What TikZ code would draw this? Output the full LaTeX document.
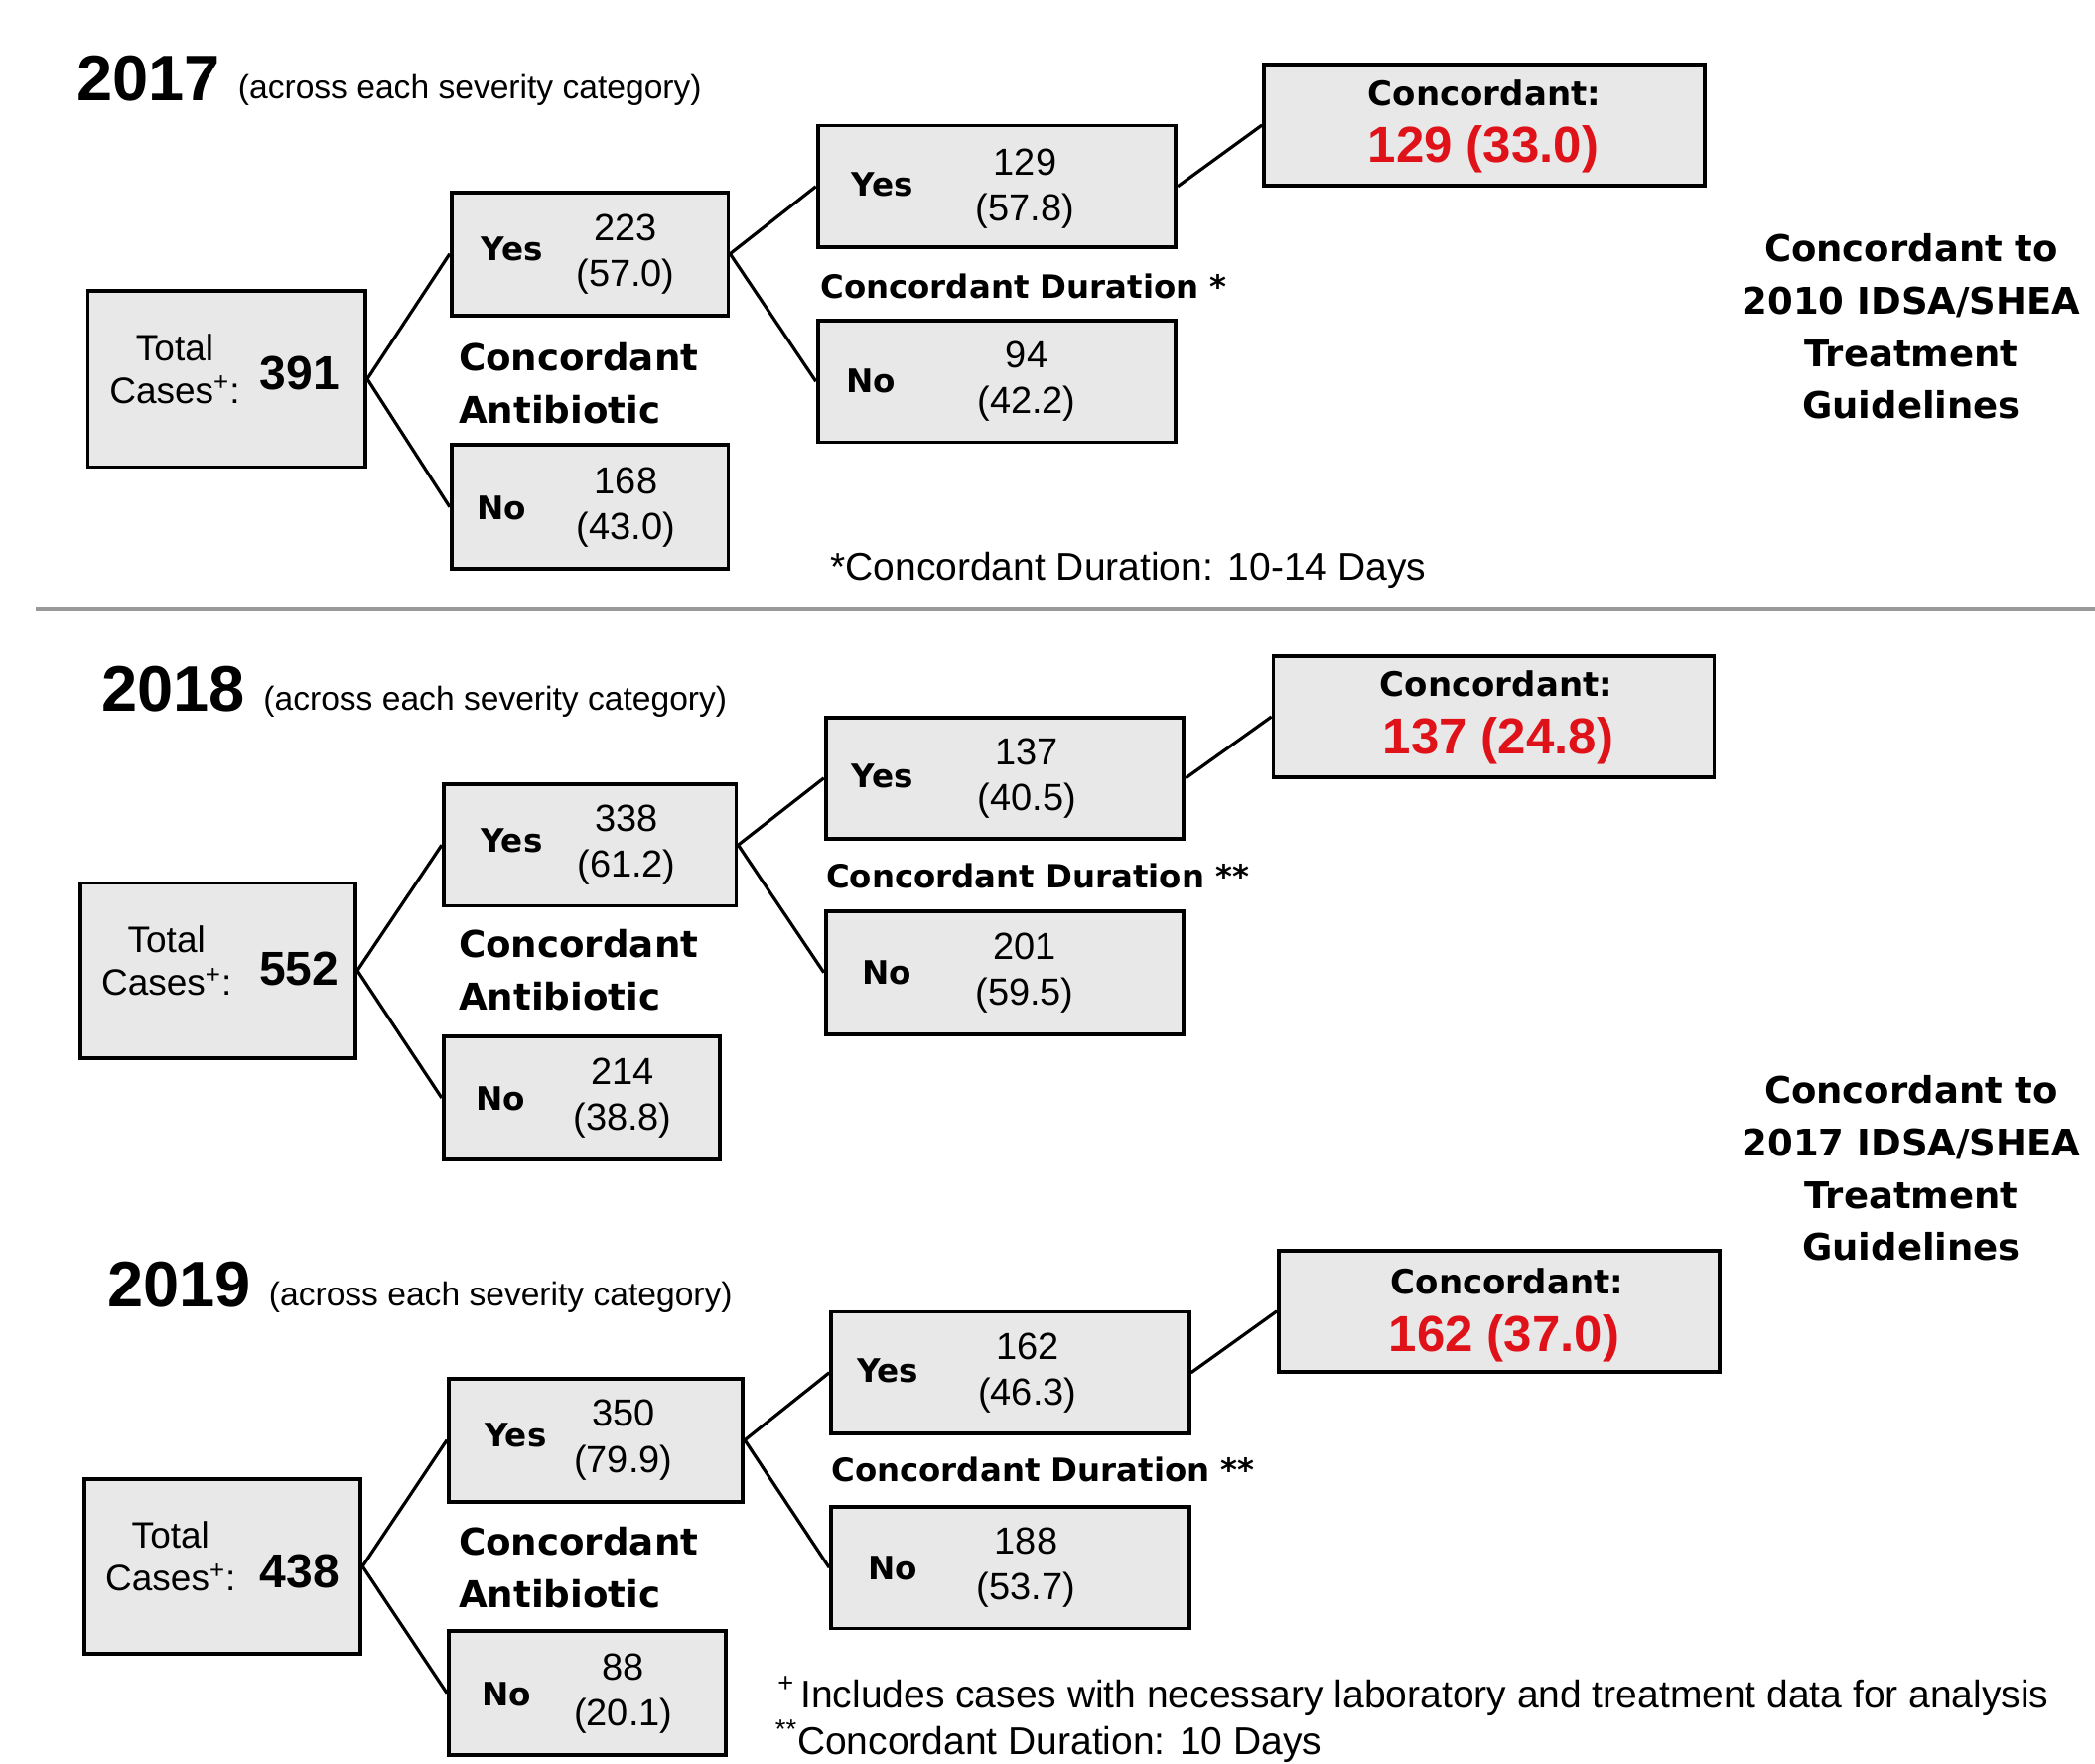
\documentclass[tikz,border=0pt]{standalone}
\usepackage{fontspec}
\setmainfont{Liberation Sans}
\newfontfamily\tahoma{DejaVu Sans}

\newlength{\du}
\setlength{\du}{0.5pt}

\definecolor{boxgray}{rgb}{0.91,0.91,0.91}
\definecolor{concred}{rgb}{0.88,0.07,0.10}
\definecolor{rulegray}{rgb}{0.60,0.60,0.60}

\tikzset{
  box/.style={draw=black, fill=boxgray, line width=1.9pt, inner sep=0pt},
  link/.style={draw=black, line width=1.6pt},
  yearlab/.style={anchor=base west, inner sep=0pt, font=\bfseries\fontsize{32.5}{36}\selectfont},
  acrosslab/.style={anchor=base west, inner sep=0pt, font=\fontsize{16.8}{20}\selectfont},
  totlab/.style={align=center, inner sep=0pt, font=\fontsize{18.5}{21.7}\selectfont},
  totnum/.style={inner sep=0pt, font=\bfseries\fontsize{24}{28}\selectfont},
  ynlab/.style={inner sep=0pt, font=\tahoma\bfseries\fontsize{16.3}{18}\selectfont},
  numlab/.style={align=center, inner sep=0pt, font=\fontsize{19}{23.3}\selectfont},
  steplab/.style={anchor=base west, inner sep=0pt, font=\tahoma\bfseries\fontsize{16.2}{20}\selectfont},
  antilab/.style={anchor=west, align=left, inner sep=0pt, font=\tahoma\bfseries\fontsize{18.6}{26.2}\selectfont},
  conclab/.style={anchor=base, inner sep=0pt, font=\tahoma\bfseries\fontsize{17}{20}\selectfont},
  concval/.style={anchor=base, inner sep=0pt, text=concred, font=\bfseries\fontsize{25.5}{30}\selectfont},
  guidelab/.style={align=center, inner sep=0pt, font=\tahoma\bfseries\fontsize{18.5}{26.3}\selectfont},
  notelab/.style={anchor=base west, inner sep=0pt, font=\fontsize{19.5}{22}\selectfont},
}

\begin{document}
\begin{tikzpicture}
\pgftransformxscale{1.000000}
\pgftransformyscale{-1.000000}
\useasboundingbox (0\du,0\du) rectangle (2110\du,1777\du);

% 2017
\node[yearlab] (yr17) at (76.7\du,101.4\du){2017};
\node[acrosslab] (ac17) at (239.5\du,100\du){(across each severity category)};
\node[box, minimum width=279.5\du, minimum height=177.5\du] (t17) at (228.3\du,381.8\du){};
\node[totlab] (t17a) at (176\du,371.5\du){Total\\Cases\textsuperscript{+}:};
\node[totnum] (t17n) at (301.7\du,376\du){391};
\node[box, minimum width=278.6\du, minimum height=124\du] (a17y) at (594.1\du,255.7\du){};
\node[ynlab] (a17yl) at (516\du,251\du){Yes};
\node[numlab] (a17yn) at (630\du,256\du){223\\(57.0)};
\node[box, minimum width=278.6\du, minimum height=125\du] (a17n) at (594.1\du,510.7\du){};
\node[ynlab] (a17nl) at (505\du,512\du){No};
\node[numlab] (a17nn) at (630.5\du,511\du){168\\(43.0)};
\node[antilab] (ab17) at (461.6\du,386\du){Concordant\\Antibiotic};
\node[box, minimum width=360.6\du, minimum height=122.5\du] (d17y) at (1003.9\du,187.8\du){};
\node[ynlab] (d17yl) at (889\du,186\du){Yes};
\node[numlab] (d17yn) at (1032.5\du,190\du){129\\(57.8)};
\node[box, minimum width=360.6\du, minimum height=122.4\du] (d17n) at (1003.9\du,384.2\du){};
\node[ynlab] (d17nl) at (877.5\du,384\du){No};
\node[numlab] (d17nn) at (1034\du,384\du){94\\(42.2)};
\node[steplab] (du17) at (826\du,300\du){Concordant Duration *};
\node[box, minimum width=444\du, minimum height=122\du] (c17) at (1495\du,126\du){};
\node[conclab] (c17a) at (1495\du,106.7\du){Concordant:};
\node[concval] (c17b) at (1494\du,163.3\du){129 (33.0)};
\node[guidelab] (g10) at (1925\du,329\du){Concordant to\\2010 IDSA/SHEA\\Treatment\\Guidelines};
\node[notelab] (f17) at (836\du,584\du){*Concordant Duration: 10-14 Days};
\draw[link] (t17.east) -- (a17y.west);
\draw[link] (t17.east) -- (a17n.west);
\draw[link] (a17y.east) -- (d17y.west);
\draw[link] (a17y.east) -- (d17n.west);
\draw[link] (d17y.east) -- (c17.west);

% separator
\coordinate (s1) at (36\du,613\du);
\coordinate (s2) at (2110\du,613\du);
\draw[draw=rulegray, line width=1.8pt] (s1) -- (s2);

% 2018
\node[yearlab] (yr18) at (102\du,716\du){2018};
\node[acrosslab] (ac18) at (265\du,715\du){(across each severity category)};
\node[box, minimum width=277.3\du, minimum height=176.3\du] (t18) at (219.4\du,977.7\du){};
\node[totlab] (t18a) at (167.7\du,968\du){Total\\Cases\textsuperscript{+}:};
\node[totnum] (t18n) at (301.3\du,975.6\du){552};
\node[box, minimum width=294.7\du, minimum height=122.4\du] (a18y) at (594.2\du,851.2\du){};
\node[ynlab] (a18yl) at (515.4\du,846.5\du){Yes};
\node[numlab] (a18yn) at (631\du,851\du){338\\(61.2)};
\node[box, minimum width=278.5\du, minimum height=123.7\du] (a18n) at (586\du,1106\du){};
\node[ynlab] (a18nl) at (504\du,1107\du){No};
\node[numlab] (a18nn) at (627\du,1106\du){214\\(38.8)};
\node[antilab] (ab18) at (461.6\du,977\du){Concordant\\Antibiotic};
\node[box, minimum width=360.7\du, minimum height=122.4\du] (d18y) at (1012\du,783.8\du){};
\node[ynlab] (d18yl) at (888.8\du,781.8\du){Yes};
\node[numlab] (d18yn) at (1034.2\du,784\du){137\\(40.5)};
\node[box, minimum width=360.7\du, minimum height=123.8\du] (d18n) at (1012\du,979.7\du){};
\node[ynlab] (d18nl) at (893.5\du,980\du){No};
\node[numlab] (d18nn) at (1032\du,980\du){201\\(59.5)};
\node[steplab] (du18) at (831.6\du,894\du){Concordant Duration **};
\node[box, minimum width=444\du, minimum height=122.5\du] (c18) at (1504.5\du,722\du){};
\node[conclab] (c18a) at (1507\du,701\du){Concordant:};
\node[concval] (c18b) at (1509\du,759.5\du){137 (24.8)};
\node[guidelab] (g17) at (1925\du,1177\du){Concordant to\\2017 IDSA/SHEA\\Treatment\\Guidelines};
\draw[link] (t18.east) -- (a18y.west);
\draw[link] (t18.east) -- (a18n.west);
\draw[link] (a18y.east) -- (d18y.west);
\draw[link] (a18y.east) -- (d18n.west);
\draw[link] (d18y.east) -- (c18.west);

% 2019
\node[yearlab] (yr19) at (107.7\du,1316\du){2019};
\node[acrosslab] (ac19) at (270.5\du,1315\du){(across each severity category)};
\node[box, minimum width=278.5\du, minimum height=176.3\du] (t19) at (224\du,1577.9\du){};
\node[totlab] (t19a) at (171.8\du,1568\du){Total\\Cases\textsuperscript{+}:};
\node[totnum] (t19n) at (302\du,1583\du){438};
\node[box, minimum width=296.2\du, minimum height=123.8\du] (a19y) at (600.1\du,1450.7\du){};
\node[ynlab] (a19yl) at (519.4\du,1446\du){Yes};
\node[numlab] (a19yn) at (627.8\du,1450.7\du){350\\(79.9)};
\node[box, minimum width=278.7\du, minimum height=125.3\du] (a19n) at (591.4\du,1705.7\du){};
\node[ynlab] (a19nl) at (510\du,1707\du){No};
\node[numlab] (a19nn) at (627.8\du,1706\du){88\\(20.1)};
\node[antilab] (ab19) at (461.6\du,1579\du){Concordant\\Antibiotic};
\node[box, minimum width=360.7\du, minimum height=122.5\du] (d19y) at (1017.4\du,1382.8\du){};
\node[ynlab] (d19yl) at (894.2\du,1381\du){Yes};
\node[numlab] (d19yn) at (1034.8\du,1383\du){162\\(46.3)};
\node[box, minimum width=360.7\du, minimum height=122.4\du] (d19n) at (1017.4\du,1579.2\du){};
\node[ynlab] (d19nl) at (898.9\du,1579.8\du){No};
\node[numlab] (d19nn) at (1033.5\du,1579\du){188\\(53.7)};
\node[steplab] (du19) at (837\du,1492\du){Concordant Duration **};
\node[box, minimum width=444\du, minimum height=122.4\du] (c19) at (1509.9\du,1320.8\du){};
\node[conclab] (c19a) at (1518\du,1303\du){Concordant:};
\node[concval] (c19b) at (1515\du,1361\du){162 (37.0)};
\node[notelab] (f19a) at (783\du,1720\du){\textsuperscript{+}\hspace{3pt}Includes cases with necessary laboratory and treatment data for analysis};
\node[notelab] (f19b) at (780.5\du,1767\du){\textsuperscript{**}Concordant Duration: 10 Days};
\draw[link] (t19.east) -- (a19y.west);
\draw[link] (t19.east) -- (a19n.west);
\draw[link] (a19y.east) -- (d19y.west);
\draw[link] (a19y.east) -- (d19n.west);
\draw[link] (d19y.east) -- (c19.west);
\end{tikzpicture}
\end{document}
